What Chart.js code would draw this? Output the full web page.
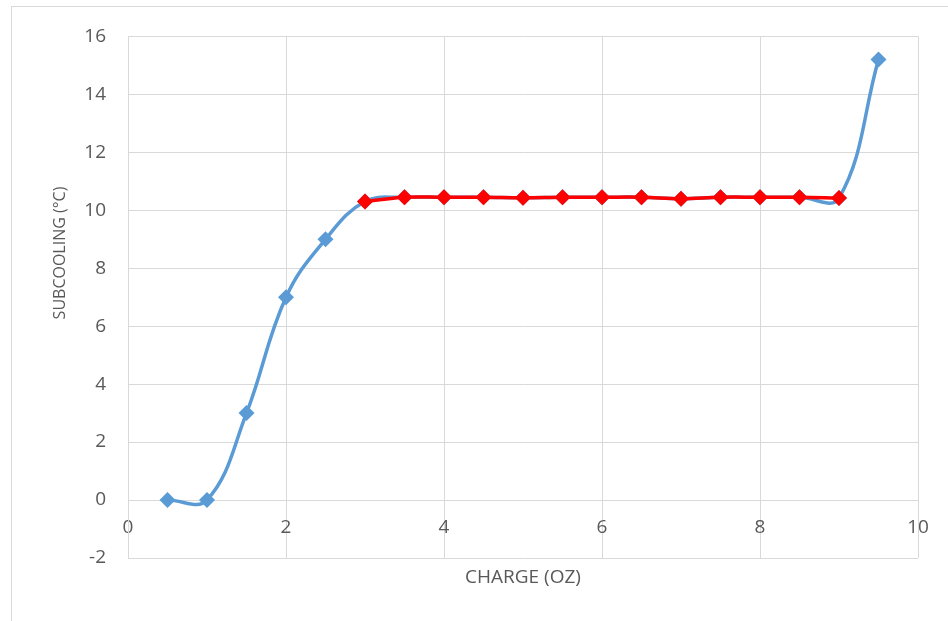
<!DOCTYPE html>
<html>
<head>
<meta charset="utf-8">
<script src="https://cdn.jsdelivr.net/npm/chart.js@4"></script>
<style>
  html, body { margin:0; padding:0; background:#fff; overflow:hidden; }
  #frame { position:absolute; left:11px; top:6px; width:948px; height:621px; border:1px solid #d9d9d9; }
  #wrap { position:absolute; left:0; top:-4px; width:936px; height:618px; }
</style>
</head>
<body>
<div id="frame"><div id="wrap"><canvas id="chart"></canvas></div></div>
<script>
// charge (oz) and measured subcooling (°C)
const charge = [0.5, 1, 1.5, 2, 2.5, 3, 3.5, 4, 4.5, 5, 5.5, 6, 6.5, 7, 7.5, 8, 8.5, 9, 9.5];
const subcooling = [0, 0, 3, 7, 9, 10.3, 10.45, 10.45, 10.45, 10.43, 10.45, 10.45, 10.45, 10.4, 10.45, 10.45, 10.45, 10.42, 15.2];
// plateau section highlighted in red
const plateauCharge = [3, 3.5, 4, 4.5, 5, 5.5, 6, 6.5, 7, 7.5, 8, 8.5, 9];
const plateauSub = [10.3, 10.45, 10.45, 10.45, 10.43, 10.45, 10.45, 10.45, 10.4, 10.45, 10.45, 10.45, 10.42];

const FONT = "'Open Sans', sans-serif";
const GREY = '#595959';
const GRID = '#d9d9d9';

const toXY = (xs, ys) => xs.map((x, i) => ({ x, y: ys[i] }));

// y title drawn by hand so it can sit where Excel put it
const yTitle = {
  id: 'yTitle',
  afterDraw(chart) {
    const ctx = chart.ctx;
    ctx.save();
    ctx.translate(48, 250);
    ctx.rotate(-Math.PI / 2);
    ctx.font = '16px ' + FONT;
    ctx.fillStyle = GREY;
    ctx.textAlign = 'center';
    ctx.textBaseline = 'middle';
    ctx.fillText('SUBCOOLING (°C)', 0, 0);
    ctx.restore();
  }
};

new Chart(document.getElementById('chart').getContext('2d'), {
  type: 'scatter',
  data: {
    datasets: [
      { label: 'Plateau', data: toXY(plateauCharge, plateauSub), showLine: true, borderColor: '#FF0000', backgroundColor: '#FF0000',
        borderWidth: 3.5, tension: 0.4, pointStyle: 'rectRot', pointRadius: 8, pointHoverRadius: 8, pointBorderWidth: 0 },
      { label: 'Subcooling', data: toXY(charge, subcooling), showLine: true, borderColor: '#5B9BD5', backgroundColor: '#5B9BD5',
        borderWidth: 3.5, tension: 0.4, pointStyle: 'rectRot', pointRadius: 8, pointHoverRadius: 8, pointBorderWidth: 0 }
    ]
  },
  options: {
    responsive: true, maintainAspectRatio: false, animation: false,
    layout: { padding: { top: 25, right: 30, left: 0, bottom: 0 } },
    plugins: { legend: { display: false }, tooltip: { enabled: false } },
    scales: {
      x: {
        type: 'linear', min: 0, max: 10, position: { y: 0 },
        ticks: { stepSize: 2, color: GREY, font: { family: FONT, size: 19 }, padding: 16, maxRotation: 0 },
        grid: { color: GRID, lineWidth: 1, drawTicks: false },
        border: { color: GRID, width: 1 }
      },
      xt: {
        type: 'linear', axis: 'x', position: 'bottom', min: 0, max: 10,
        ticks: { display: false }, grid: { display: false, drawTicks: false }, border: { display: false },
        title: { display: true, text: 'CHARGE (OZ)', color: GREY, font: { family: FONT, size: 19 }, padding: { top: 0, bottom: 32 } },
        afterFit: s => { s.height = 63; }
      },
      y: {
        type: 'linear', min: -2, max: 16,
        ticks: { stepSize: 2, color: GREY, font: { family: FONT, size: 19 }, padding: 22 },
        grid: { color: GRID, lineWidth: 1, drawTicks: false },
        border: { color: GRID, width: 1 },
        afterFit: s => { s.width = 116; }
      }
    }
  },
  plugins: [yTitle]
});
</script>
</body>
</html>
